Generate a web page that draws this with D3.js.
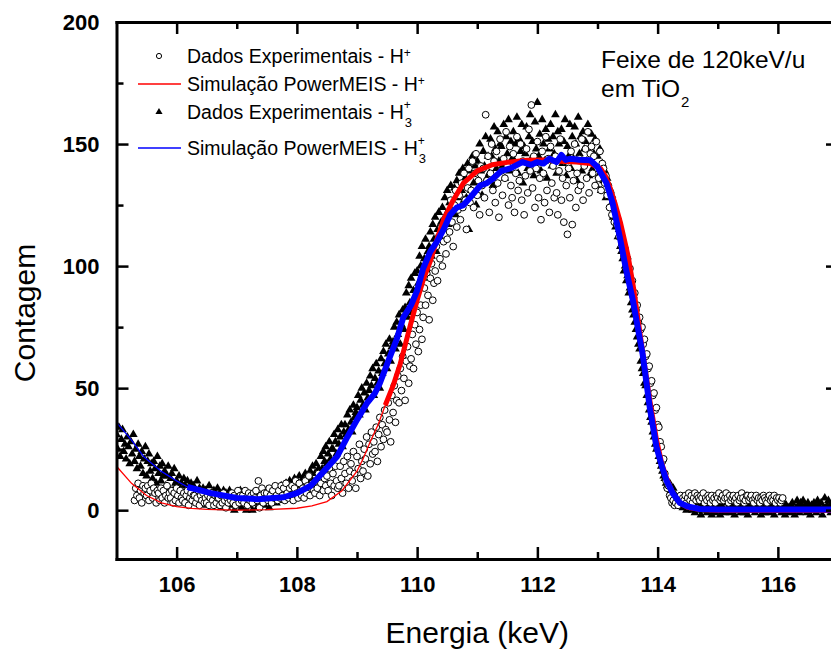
<!DOCTYPE html>
<html>
<head>
<meta charset="utf-8">
<script src="https://cdn.jsdelivr.net/npm/d3@7"></script>
<style>
  body { margin: 0; background: #fff; }
  svg { display: block; font-family: Arial, 'Liberation Sans', sans-serif; }
</style>
</head>
<body>
<div id="chart"></div>
<script>
/// /data////////////////////////////////
// channel grid of the spectra (keV)
const h3Start = 105.0
const hStart = 105.3
const channelStep = 0.02

// Dados Experimentais - H3+ (triangles), one value per channel
const h3Counts = [
  31, 25, 34, 22, 29, 33, 24, 27, 21, 30,
  26, 19, 28, 23, 31, 20, 25, 17, 27, 22,
  18, 24, 15, 21, 26, 14, 20, 23, 16, 19,
  13, 20, 17, 11, 22, 15, 18, 12, 19, 14,
  16, 10, 14, 18, 9, 13, 15, 8, 17, 11,
  12, 7, 14, 9, 11, 6, 13, 10, 8, 12,
  9, 5, 11, 7, 10, 4, 8, 12, 6, 9,
  7, 3, 9, 5, 8, 2, 6, 10, 4, 7,
  5, 8, 2, 6, 9, 3, 7, 1, 5, 8,
  3, 7, 1, 5, 8, 2, 6, 4, 0, 5,
  6, 2, 4, 8, 1, 5, 3, 7, 0, 4,
  2, 6, 4, 0, 7, 3, 5, 1, 6, 3,
  5, 3, 7, 2, 6, 8, 4, 1, 6, 5,
  4, 8, 6, 3, 9, 5, 7, 10, 4, 8,
  7, 11, 5, 9, 12, 6, 10, 8, 13, 9,
  12, 8, 14, 10, 7, 13, 11, 15, 9, 14,
  11, 16, 13, 18, 10, 15, 19, 12, 17, 14,
  22, 17, 24, 20, 26, 19, 23, 28, 21, 25,
  25, 31, 28, 23, 33, 27, 30, 35, 26, 32,
  35, 31, 39, 33, 41, 36, 32, 43, 38, 40,
  42, 47, 39, 45, 50, 43, 48, 41, 52, 46,
  49, 55, 51, 58, 47, 54, 60, 52, 57, 50,
  62, 56, 65, 60, 68, 58, 64, 70, 61, 67,
  69, 75, 66, 77, 72, 80, 68, 76, 82, 74,
  83, 89, 79, 92, 85, 95, 81, 90, 97, 88,
  98, 93, 104, 100, 108, 95, 103, 111, 99, 106,
  108, 114, 104, 117, 111, 120, 106, 115, 122, 112,
  118, 124, 115, 128, 121, 131, 117, 126, 133, 122,
  126, 132, 121, 135, 128, 138, 124, 131, 140, 127,
  136, 128, 142, 115, 139, 131, 145, 134, 141, 125,
  143, 135, 150, 139, 129, 147, 141, 153, 136, 145,
  138, 152, 145, 133, 157, 148, 140, 155, 143, 150,
  149, 141, 158, 136, 153, 146, 160, 139, 151, 144,
  155, 143, 150, 161, 138, 152, 147, 158, 134, 149,
  146, 157, 140, 153, 162, 144, 151, 137, 159, 148,
  167, 145, 154, 139, 160, 150, 143, 156, 136, 152,
  148, 158, 141, 153, 146, 162, 138, 155, 150, 144,
  156, 142, 151, 160, 137, 149, 145, 158, 140, 153,
  144, 157, 150, 135, 161, 146, 153, 139, 155, 148,
  151, 143, 158, 137, 149, 154, 140, 146, 152, 133,
  145, 137, 148, 131, 142, 135, 139, 128, 136, 130,
  132, 125, 129, 120, 124, 116, 119, 112, 115, 108,
  106, 103, 98, 100, 94, 96, 89, 91, 85, 82,
  80, 77, 74, 71, 68, 66, 61, 58, 56, 52,
  51, 47, 44, 41, 38, 36, 32, 30, 27, 25,
  26, 22, 20, 18, 16, 14, 13, 11, 10, 9,
  11, 8, 7, 9, 5, 6, 4, 5, 3, 4,
  3, 1, 4, 2, 0, 3, 1, 4, 2, 0,
  2, -1, 3, 0, 4, 1, -2, 2, 0, 3,
  1, -1, 2, 4, 0, -2, 3, 1, -1, 2,
  3, 0, -2, 2, 1, 4, -1, 0, 3, 1,
  -1, 2, 0, 3, -2, 1, 4, 0, 2, -1,
  1, 3, -1, 0, 2, -2, 3, 1, 4, 0,
  2, -1, 1, 3, 0, 2, -2, 4, 1, -1,
  0, 3, 1, -1, 2, 4, 0, -2, 1, 3,
  2, 0, 4, -1, 1, 3, -2, 2, 0, 1,
  -1, 2, 3, 0, -2, 1, 4, 2, -1, 3,
  1, 4, 0, 2, -1, 3, 1, -2, 2, 0,
  3, 1, -1, 4, 2, 0, 3, -2, 1, 5,
  0, 2, 4, 1, -1, 3, 2, 0, 4, 1
]

// Dados Experimentais - H+ (circles), one value per channel
const hCounts = [
  4, 9, 6, 11, 5, 8, 3, 10, 7, 9,
  6, 10, 4, 8, 11, 5, 9, 7, 3, 8,
  7, 4, 9, 5, 8, 3, 6, 10, 5, 7,
  5, 8, 3, 7, 4, 9, 6, 3, 8, 5,
  4, 7, 3, 6, 8, 2, 5, 7, 4, 6,
  6, 3, 5, 8, 2, 6, 4, 7, 3, 5,
  3, 6, 2, 5, 7, 4, 2, 6, 3, 5,
  5, 2, 6, 3, 7, 4, 1, 5, 3, 6,
  4, 7, 3, 6, 2, 5, 8, 3, 6, 4,
  6, 3, 8, 5, 2, 7, 4, 6, 3, 7,
  5, 8, 4, 12, 1, 6, 9, 3, 7, 5,
  7, 4, 9, 6, 3, 8, 5, 10, 6, 4,
  8, 5, 10, 6, 9, 4, 11, 7, 5, 9,
  6, 10, 4, 9, 12, 7, 5, 11, 8, 6,
  9, 5, 12, 7, 10, 14, 6, 9, 11, 8,
  7, 12, 9, 15, 6, 11, 14, 8, 13, 10,
  14, 8, 17, 11, 6, 15, 10, 18, 12, 9,
  10, 18, 13, 7, 20, 15, 11, 22, 9, 16,
  19, 12, 24, 15, 9, 22, 17, 27, 13, 20,
  16, 25, 21, 30, 14, 27, 19, 32, 23, 28,
  24, 34, 20, 31, 38, 26, 35, 29, 41, 33,
  32, 44, 37, 28, 47, 40, 51, 36, 45, 55,
  44, 58, 49, 63, 54, 45, 61, 67, 52, 59,
  62, 72, 58, 76, 68, 81, 65, 74, 84, 70,
  79, 91, 84, 97, 88, 78, 95, 101, 86, 93,
  98, 108, 94, 112, 103, 116, 100, 110, 119, 105,
  111, 122, 114, 127, 118, 108, 125, 131, 116, 123,
  129, 119, 134, 124, 138, 127, 115, 132, 140, 126,
  131, 143, 124, 138, 146, 129, 135, 121, 141, 133,
  140, 128, 162, 135, 145, 122, 138, 150, 131, 143,
  126, 147, 134, 120, 152, 139, 129, 144, 136, 155,
  141, 125, 149, 133, 128, 146, 122, 138, 153, 131,
  135, 150, 127, 143, 121, 137, 148, 130, 156, 139,
  166, 132, 145, 124, 140, 151, 128, 136, 119, 147,
  138, 126, 153, 131, 144, 122, 149, 134, 141, 128,
  145, 130, 121, 139, 152, 127, 136, 118, 143, 133,
  113, 140, 128, 147, 117, 135, 150, 124, 138, 131,
  144, 133, 152, 127, 141, 148, 136, 155, 130, 146,
  149, 138, 145, 133, 151, 140, 136, 147, 131, 142,
  140, 134, 137, 129, 133, 124, 130, 121, 126, 118,
  122, 117, 119, 112, 114, 108, 110, 104, 107, 100,
  103, 97, 99, 92, 94, 87, 89, 82, 84, 77,
  79, 74, 75, 68, 70, 63, 64, 58, 59, 52,
  53, 47, 48, 41, 42, 35, 34, 28, 26, 20,
  21, 15, 12, 9, 10, 6, 5, 3, 4, 2,
  3, 5, 2, 4, 6, 3, 5, 4, 6, 3,
  5, 7, 4, 6, 3, 5, 7, 4, 6, 5,
  4, 6, 5, 7, 3, 5, 4, 6, 5, 3,
  6, 4, 5, 3, 6, 5, 7, 4, 5, 6,
  4, 5, 7, 5, 3, 6, 4, 5, 6, 4,
  5, 3, 6, 4, 5, 7, 5, 3, 4, 6,
  6, 4, 5, 6, 4, 3, 5, 6, 4, 5,
  3, 5, 4, 6, 5, 4, 3, 5, 6, 4,
  5, 4, 6, 3, 5, 4, 5, 3, 4, 5
]

// Simulação PowerMEIS - H+
const simHEnergy = [105.0, 105.25, 105.5, 105.75, 106.0, 106.25, 106.5, 107.0, 107.5, 108.0,
  108.25, 108.5, 108.75, 109.0, 109.1, 109.22, 109.35, 109.47, 109.6, 109.72,
  109.89, 110.0, 110.11, 110.22, 110.33, 110.44, 110.6, 110.77, 111.0, 111.25,
  111.5, 111.83, 112.1, 112.38, 112.65, 112.88, 113.05, 113.13, 113.21, 113.3,
  113.38, 113.51, 113.6, 113.75, 113.87, 113.98, 114.07, 114.15, 114.25, 114.37,
  114.5, 114.7, 115.0, 116.0, 117.0]
const simHCounts = [18, 11, 6, 3, 1.5, 0.7, 0.3, 0, 0.2, 0.8,
  1.8, 3.5, 8, 16, 21, 28, 35, 43, 51, 60,
  76, 86, 95, 102, 111, 119, 127, 134, 139, 141.5,
  142.5, 143.4, 143.5, 143, 142.6, 142, 140, 137, 132, 125,
  118, 104, 91, 65, 45, 29, 19, 13, 7, 3,
  1.2, 0.3, 0, 0, 0]

// Simulação PowerMEIS - H3+
const simH3Energy = [105.0, 105.24, 105.45, 105.74, 106.0, 106.18, 106.57, 107.0, 107.35, 107.78,
  108.0, 108.23, 108.45, 108.67, 108.84, 109.0, 109.17, 109.3, 109.38, 109.55,
  109.66, 109.77, 109.9, 110.0, 110.1, 110.22, 110.33, 110.44, 110.55, 110.66,
  110.77, 110.88, 111.05, 111.16, 111.27, 111.4, 111.55, 111.75, 111.9, 112.0,
  112.1, 112.2, 112.32, 112.4, 112.47, 112.55, 112.7, 112.88, 113.0, 113.15,
  113.25, 113.37, 113.48, 113.58, 113.75, 113.87, 113.98, 114.07, 114.15, 114.25,
  114.37, 114.5, 114.7, 115.0, 117.0]
const simH3Counts = [36, 29, 22, 16, 12, 9.5, 7, 5, 4.5, 5.3,
  7, 10, 16, 22, 30, 37, 44, 48, 52, 63,
  70, 79, 84, 90, 99, 106, 110, 115, 121, 124,
  125, 128, 133, 134, 136, 139, 140, 142.6, 141.5, 142.6,
  142, 144, 142.6, 145.5, 143.5, 144, 143.6, 143.4, 140.6, 134,
  126, 112, 98, 87, 64, 42, 26, 18, 12, 7,
  3, 1.5, 0.5, 0.3, 0.3]

const xMajor = [106, 108, 110, 112, 114, 116]
const xMinor = [107, 109, 111, 113, 115, 117]
const yMajor = [0, 50, 100, 150, 200]
const yMinor = [25, 75, 125, 175]

const legendLabels = ['Dados Experimentais - H', 'Simulação PowerMEIS - H', 'Dados Experimentais - H', 'Simulação PowerMEIS - H']
const legendSub = ['', '', '3', '3']

/// /setup////////////////////////////////
const width = 831
const height = 652
const redThickFrom = 109.47
const blueThickFrom = 106.18

const svg = d3.select('#chart')
  .append('svg')
  .attr('width', width)
  .attr('height', height)

const xScale = d3.scaleLinear().domain([105, 117]).range([116.5, 838])
const yScale = d3.scaleLinear().domain([-20, 200]).range([559, 22])

const h3Data = h3Counts.map((v, i) => ({ e: h3Start + i * channelStep, v }))
const hData = hCounts.map((v, i) => ({ e: hStart + i * channelStep, v }))
const simH = simHEnergy.map((e, i) => ({ e, v: simHCounts[i] }))
const simH3 = simH3Energy.map((e, i) => ({ e, v: simH3Counts[i] }))

svg.append('clipPath').attr('id', 'plot-clip')
  .append('rect')
  .attr('x', xScale(105)).attr('y', yScale(200))
  .attr('width', xScale(117) - xScale(105))
  .attr('height', yScale(-20) - yScale(200))

const plot = svg.append('g').attr('clip-path', 'url(#plot-clip)')

/// /scatter////////////////////////////////
const tri = d3.symbol(d3.symbolTriangle, 33)
plot.append('g')
  .selectAll('path')
  .data(h3Data)
  .enter()
  .append('path')
  .attr('d', tri)
  .attr('transform', d => `translate(${xScale(d.e)},${yScale(d.v)})`)
  .attr('fill', '#000')

plot.append('g')
  .selectAll('circle')
  .data(hData)
  .enter()
  .append('circle')
  .attr('cx', d => xScale(d.e))
  .attr('cy', d => yScale(d.v))
  .attr('r', 3.4)
  .attr('fill', '#fff')
  .attr('stroke', '#000')
  .attr('stroke-width', 1)

/// /simulation lines////////////////////////////////
const line = d3.line().x(d => xScale(d.e)).y(d => yScale(d.v))

plot.append('path').datum(simH).attr('d', line)
  .attr('fill', 'none').attr('stroke', '#ff0000').attr('stroke-width', 1.3)
plot.append('path').datum(simH.filter(d => d.e >= redThickFrom)).attr('d', line)
  .attr('fill', 'none').attr('stroke', '#ff0000').attr('stroke-width', 5)
  .attr('stroke-linejoin', 'round')

plot.append('path').datum(simH3).attr('d', line)
  .attr('fill', 'none').attr('stroke', '#0000ff').attr('stroke-width', 1.3)
plot.append('path').datum(simH3.filter(d => d.e >= blueThickFrom)).attr('d', line)
  .attr('fill', 'none').attr('stroke', '#0000ff').attr('stroke-width', 6)
  .attr('stroke-linejoin', 'round')

/// /axes////////////////////////////////
function styleAxis(g) {
  g.attr('font-family', null).attr('font-size', null)
  g.select('.domain').attr('stroke', '#000').attr('stroke-width', 3).attr('stroke-linecap', 'square')
  g.selectAll('.tick line').attr('stroke', '#000').attr('stroke-width', 2.5)
  g.selectAll('.tick text')
    .attr('fill', '#000')
    .attr('font-size', 22)
    .attr('font-weight', 'bold')
}
function minorAxis(g) {
  g.select('.domain').remove()
  g.selectAll('.tick line').attr('stroke', '#000').attr('stroke-width', 2.5)
}

svg.append('g')
  .attr('transform', `translate(0,${yScale(-20)})`)
  .call(d3.axisBottom(xScale).tickValues(xMajor).tickSize(-12).tickSizeOuter(0).tickPadding(17).tickFormat(d3.format('d')))
  .call(styleAxis)
svg.append('g')
  .attr('transform', `translate(0,${yScale(-20)})`)
  .call(d3.axisBottom(xScale).tickValues(xMinor).tickSize(-7).tickFormat(''))
  .call(minorAxis)

svg.append('g')
  .attr('transform', `translate(0,${yScale(200)})`)
  .call(d3.axisTop(xScale).tickValues(xMajor).tickSize(-12).tickSizeOuter(0).tickFormat(''))
  .call(styleAxis)
svg.append('g')
  .attr('transform', `translate(0,${yScale(200)})`)
  .call(d3.axisTop(xScale).tickValues(xMinor).tickSize(-7).tickFormat(''))
  .call(minorAxis)

svg.append('g')
  .attr('transform', `translate(${xScale(105)},0)`)
  .call(d3.axisLeft(yScale).tickValues(yMajor).tickSize(-12).tickSizeOuter(0).tickPadding(17))
  .call(styleAxis)
svg.append('g')
  .attr('transform', `translate(${xScale(105)},0)`)
  .call(d3.axisLeft(yScale).tickValues(yMinor).tickSize(-7).tickFormat(''))
  .call(minorAxis)

svg.append('g')
  .attr('transform', `translate(${xScale(117)},0)`)
  .call(d3.axisRight(yScale).tickValues(yMajor).tickSize(-12).tickSizeOuter(0).tickFormat(''))
  .call(styleAxis)
svg.append('g')
  .attr('transform', `translate(${xScale(117)},0)`)
  .call(d3.axisRight(yScale).tickValues(yMinor).tickSize(-7).tickFormat(''))
  .call(minorAxis)

/// /axis titles////////////////////////////////
svg.append('text')
  .text('Energia (keV)')
  .attr('x', (xScale(105) + xScale(117)) / 2)
  .attr('y', 643)
  .attr('text-anchor', 'middle')
  .attr('font-size', 30)

svg.append('text')
  .text('Contagem')
  .attr('transform', 'translate(35,313) rotate(-90)')
  .attr('text-anchor', 'middle')
  .attr('font-size', 30)

/// /legend////////////////////////////////
const legendY = [63, 91, 119, 155]
const legend = svg.append('g')
legendLabels.forEach((label, i) => {
  const yb = legendY[i]
  const ym = yb - 7
  if (i % 2 === 0) {
    if (i === 0) {
      legend.append('circle').attr('cx', 159).attr('cy', ym).attr('r', 2.6)
        .attr('fill', '#fff').attr('stroke', '#000').attr('stroke-width', 1)
    } else {
      legend.append('path').attr('d', d3.symbol(d3.symbolTriangle, 22))
        .attr('transform', `translate(159,${ym})`).attr('fill', '#000')
    }
  } else {
    legend.append('line').attr('x1', 138).attr('x2', 181).attr('y1', ym).attr('y2', ym)
      .attr('stroke', i === 1 ? '#ff0000' : '#0000ff').attr('stroke-width', 1.3)
  }
  const t = legend.append('text').text(label)
    .attr('x', 187).attr('y', yb).attr('font-size', 19.5).attr('fill', '#000')
  const end = 187 + t.node().getComputedTextLength()
  legend.append('text').text('+')
    .attr('x', end).attr('y', yb - (legendSub[i] ? 10 : 6)).attr('font-size', 12)
  if (legendSub[i]) {
    legend.append('text').text(legendSub[i])
      .attr('x', end + 1).attr('y', yb + 8).attr('font-size', 13)
  }
})

/// /annotation////////////////////////////////
svg.append('text').text('Feixe de 120keV/u')
  .attr('x', 601).attr('y', 68).attr('font-size', 24.5)
const em = svg.append('text').text('em TiO')
  .attr('x', 601).attr('y', 97).attr('font-size', 24.5)
svg.append('text').text('2')
  .attr('x', 601 + em.node().getComputedTextLength() + 1)
  .attr('y', 107).attr('font-size', 15)
</script>
</body>
</html>
